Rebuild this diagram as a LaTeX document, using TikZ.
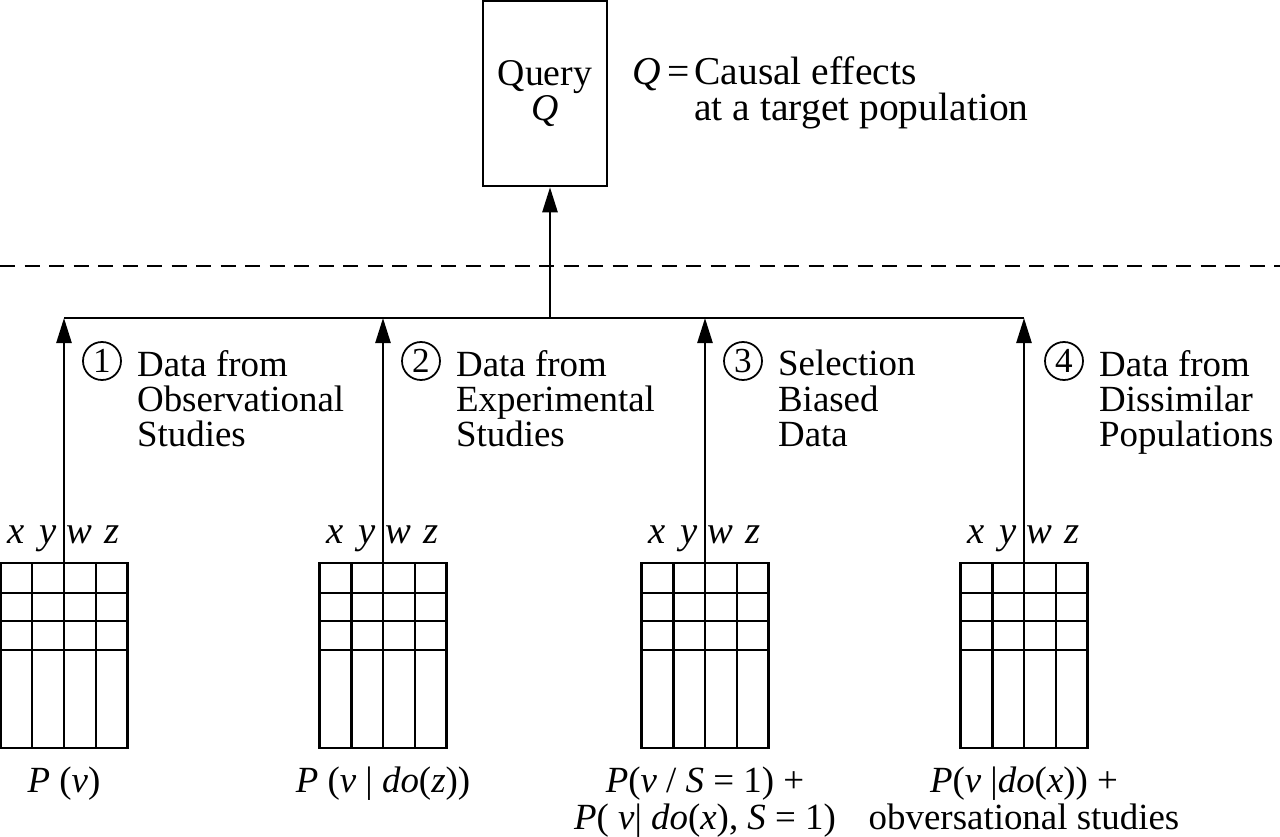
\documentclass[tikz,border=0pt]{standalone}
\usepackage{fontspec}
\setmainfont{Liberation Serif}
\usetikzlibrary{arrows.meta,positioning}

\newcommand{\xywz}{\makebox[6.35mm]{\textit{x}}\makebox[6.35mm]{\textit{y}}\makebox[6.35mm]{\textit{w}}\makebox[6.35mm]{\textit{z}}}

\begin{document}
\begin{tikzpicture}[
    x=0.2mm, y=-0.2mm,
    line width=0.5mm,
    querybox/.style={rectangle, draw=black, align=center, minimum width=24.8mm, minimum height=37mm, inner sep=0pt, font=\fontsize{21.5}{18}\selectfont},
    datatable/.style={rectangle, draw=black, minimum width=25.4mm, minimum height=37mm, inner sep=0pt,
        path picture={
            \foreach \c in {6.35mm,12.7mm,19.05mm}
                \draw ([xshift=\c]path picture bounding box.north west) -- ([xshift=\c]path picture bounding box.south west);
            \foreach \r in {6mm,11.6mm,17.4mm}
                \draw ([yshift=-\r]path picture bounding box.north west) -- ([yshift=-\r]path picture bounding box.north east);
        }},
    headrow/.style={inner sep=0pt, font=\fontsize{22}{20}\selectfont},
    formula/.style={align=center, inner sep=0pt, font=\fontsize{21}{21}\selectfont},
    numcircle/.style={circle, draw=black, line width=0.35mm, minimum size=7.6mm, inner sep=0pt, font=\fontsize{20}{20}\selectfont},
    datalabel/.style={align=left, inner sep=0pt, anchor=north west, font=\fontsize{21}{20}\selectfont},
    sepline/.style={dash pattern=on 3mm off 1.9mm},
    arrow/.style={-{Triangle[length=5mm,width=3mm]}}
]
\useasboundingbox (0,0) rectangle (1280,837);

\node[querybox] (query) at (545,93.5) {Query\\\textit{Q}};
\node[anchor=north west, inner sep=0pt, font=\fontsize{22.5}{16.5}\selectfont] (qdef) at ([xshift=4.6mm, yshift=-11.2mm]query.north east)
    {\begin{tabular}{@{}l@{\hspace{1mm}}l@{}}\textit{Q}\hspace{1.2mm}= & Causal effects\\ & at a target population\end{tabular}};

\draw[sepline] (0,266) -- (1280,266);

% data tables
\node[datatable] (t1) at (64,655.5) {};
\node[datatable] (t2) at (383,655.5) {};
\node[datatable] (t3) at (705,655.5) {};
\node[datatable] (t4) at (1024,655.5) {};

\node[headrow, above=1.8mm of t1] (h1) {\xywz};
\node[headrow, above=1.8mm of t2] (h2) {\xywz};
\node[headrow, above=1.8mm of t3] (h3) {\xywz};
\node[headrow, above=1.8mm of t4] (h4) {\xywz};

\node[formula, below=3.2mm of t1] (f1) {\textit{P} (\textit{v})};
\node[formula, below=3.2mm of t2] (f2) {\textit{P} (\textit{v} | \textit{do}(\textit{z}))};
\node[formula, below=3.2mm of t3] (f3) {\textit{P}(\textit{v} / \textit{S} = 1) +\\\textit{P}( \textit{v}| \textit{do}(\textit{x}), \textit{S} = 1)};
\node[formula, below=3.2mm of t4] (f4) {\textit{P}(\textit{v} |\textit{do}(\textit{x})) +\\obversational studies};

% labels
\node[numcircle] (n1) at (102,361) {1};
\node[numcircle] (n2) at (421,361) {2};
\node[numcircle] (n3) at (743,361) {3};
\node[numcircle] (n4) at (1064,361) {4};
\node[datalabel] (d1) at ([xshift=2.8mm, yshift=2.4mm]n1.east) {Data from\\Observational\\Studies};
\node[datalabel] (d2) at ([xshift=2.8mm, yshift=2.4mm]n2.east) {Data from\\Experimental\\Studies};
\node[datalabel] (d3) at ([xshift=2.8mm, yshift=2.4mm]n3.east) {Selection\\Biased\\Data};
\node[datalabel] (d4) at ([xshift=2.8mm, yshift=2.4mm]n4.east) {Data from\\Dissimilar\\Populations};

\coordinate (bus) at (550,318);
\draw[arrow] (t1.north) -- (t1.north |- bus);
\draw[arrow] (t2.north) -- (t2.north |- bus);
\draw[arrow] (t3.north) -- (t3.north |- bus);
\draw[arrow] (t4.north) -- (t4.north |- bus);
\draw (t1.north |- bus) -- (t4.north |- bus);
\draw[arrow] (bus) -- (bus |- query.south);
\end{tikzpicture}
\end{document}
